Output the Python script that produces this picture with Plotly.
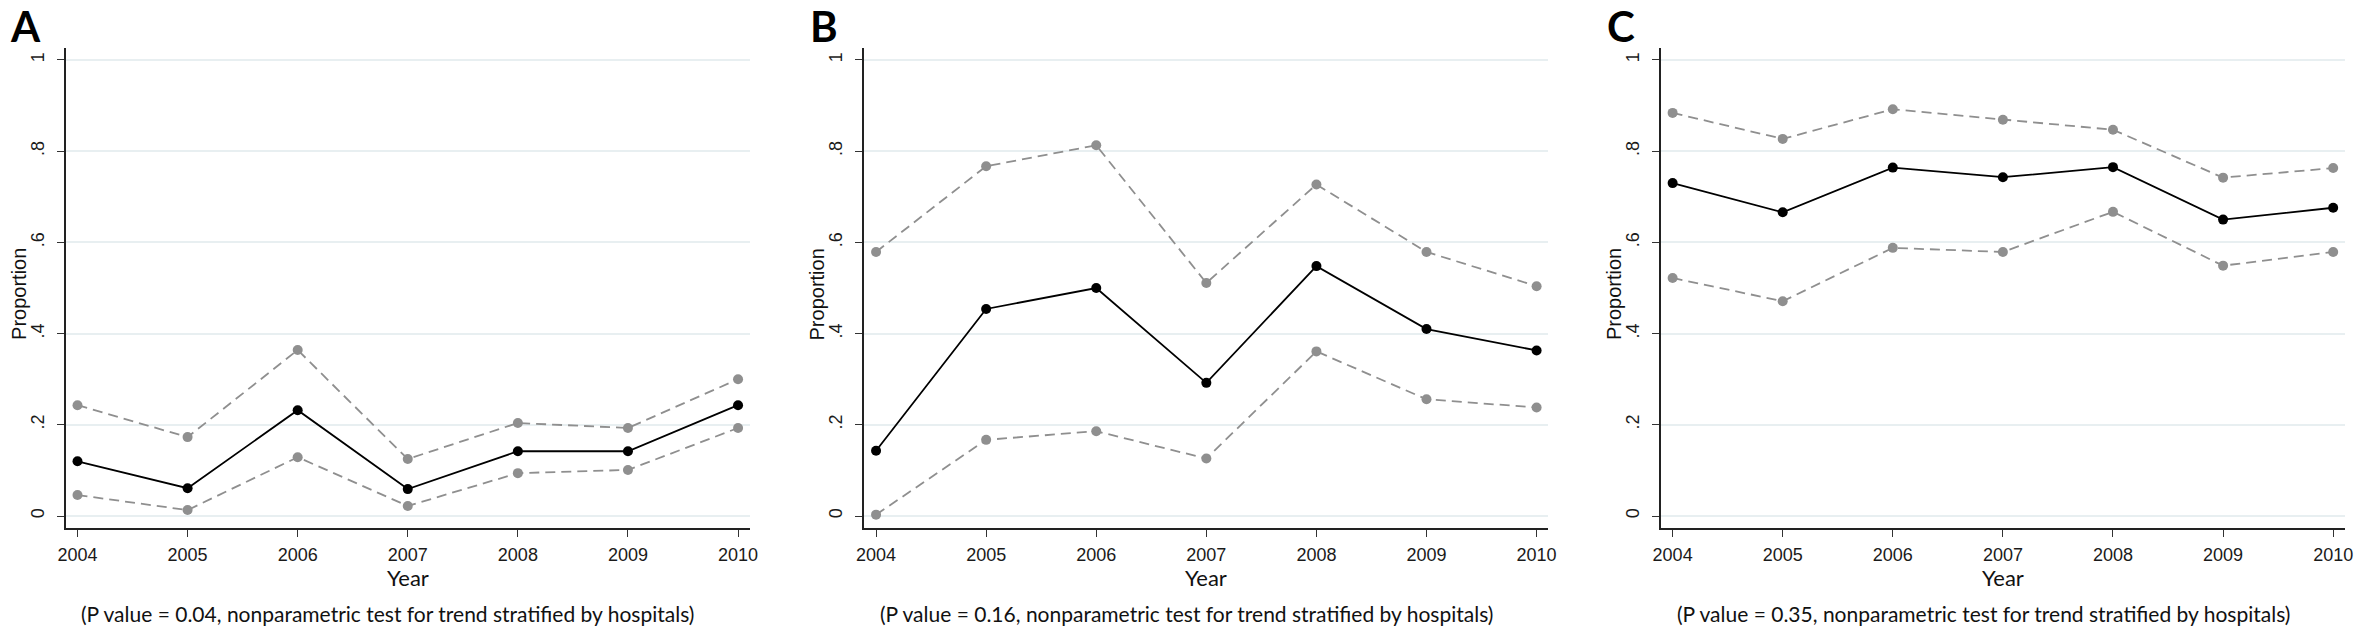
import plotly.graph_objects as go

years = [2004, 2005, 2006, 2007, 2008, 2009, 2010]

a_mean = [0.120, 0.061, 0.232, 0.059, 0.142, 0.142, 0.243]
a_upper = [0.243, 0.173, 0.364, 0.125, 0.204, 0.193, 0.300]
a_lower = [0.046, 0.013, 0.129, 0.022, 0.094, 0.101, 0.193]

b_mean = [0.143, 0.454, 0.500, 0.292, 0.548, 0.410, 0.363]
b_upper = [0.579, 0.767, 0.813, 0.511, 0.727, 0.579, 0.504]
b_lower = [0.003, 0.167, 0.186, 0.126, 0.361, 0.256, 0.238]

c_mean = [0.730, 0.666, 0.764, 0.743, 0.765, 0.650, 0.676]
c_upper = [0.884, 0.827, 0.892, 0.869, 0.847, 0.742, 0.763]
c_lower = [0.522, 0.471, 0.588, 0.579, 0.667, 0.549, 0.579]

panel_letters = ["A", "B", "C"]
p_values = ["0.04", "0.16", "0.35"]
ytick_vals = [0, 0.2, 0.4, 0.6, 0.8, 1]
ytick_text = ["0", ".2", ".4", ".6", ".8", "1"]
x_title = "Year"
y_title = "Proportion"
caption_tpl = "(P value = {}, nonparametric test for trend stratified by hospitals)"

W, H = 2362, 627
panel_px = [(58, 747), (862, 1551), (1664, 2353)]
y_top_px, y_bot_px = 48, 528

GRAY = "#8f8f8f"
GRID = "#e8eff1"
TICK_FONT = dict(family="Liberation Sans, Arial, sans-serif", size=18, color="#1a1a1a")
CAL_FONT = "Lato, Carlito, Calibri, sans-serif"

def px_x(p):
    return p / W

def px_y(p):
    return 1 - p / H

fig = go.Figure()
series = [(a_mean, a_upper, a_lower), (b_mean, b_upper, b_lower), (c_mean, c_upper, c_lower)]

for i, (mean, upper, lower) in enumerate(series):
    xa = "x" if i == 0 else f"x{i+1}"
    ya = "y" if i == 0 else f"y{i+1}"
    for ci in (upper, lower):
        fig.add_trace(go.Scatter(
            x=years, y=ci, mode="lines+markers", xaxis=xa, yaxis=ya,
            line=dict(color=GRAY, width=1.8, dash="10px,6px"),
            marker=dict(color=GRAY, size=10),
            showlegend=False, hoverinfo="skip"))
    fig.add_trace(go.Scatter(
        x=years, y=mean, mode="lines+markers", xaxis=xa, yaxis=ya,
        line=dict(color="black", width=1.8),
        marker=dict(color="black", size=10),
        showlegend=False, hoverinfo="skip"))

layout = dict(
    width=W, height=H,
    margin=dict(l=0, r=0, t=0, b=0),
    paper_bgcolor="white", plot_bgcolor="white",
    showlegend=False,
)

annotations = []
for i, (l, r) in enumerate(panel_px):
    xk = "xaxis" if i == 0 else f"xaxis{i+1}"
    yk = "yaxis" if i == 0 else f"yaxis{i+1}"
    yanchor_name = "y" if i == 0 else f"y{i+1}"
    xanchor_name = "x" if i == 0 else f"x{i+1}"
    layout[xk] = dict(
        domain=[px_x(l), px_x(r)], range=[2003.892, 2010.108],
        anchor=yanchor_name,
        tickmode="array", tickvals=years, ticktext=[str(y) for y in years],
        ticks="outside", ticklen=7, tickwidth=1.3, tickcolor="#333",
        ticklabelstandoff=3,
        showline=True, linecolor="#222", linewidth=1.5,
        showgrid=False, zeroline=False, tickfont=TICK_FONT,
    )
    layout[yk] = dict(
        domain=[px_y(y_bot_px), px_y(y_top_px)], range=[-0.0263, 1.0263],
        anchor=xanchor_name,
        tickmode="array", tickvals=ytick_vals, ticktext=ytick_text,
        tickangle=-90, ticklabelstandoff=6,
        ticks="outside", ticklen=7, tickwidth=1.3, tickcolor="#333",
        showline=True, linecolor="#222", linewidth=1.5,
        showgrid=True, gridcolor=GRID, gridwidth=1.5,
        zeroline=False, tickfont=TICK_FONT,
    )
    center = (l + r) / 2
    annotations.append(dict(
        text=x_title, xref="paper", yref="paper",
        x=px_x(center), y=px_y(577), xanchor="center", yanchor="middle",
        showarrow=False, font=dict(family=CAL_FONT, size=22, color="#111")))
    annotations.append(dict(
        text=caption_tpl.format(p_values[i]), xref="paper", yref="paper",
        x=px_x(center - 20), y=px_y(613), xanchor="center", yanchor="middle",
        borderpad=0,
        showarrow=False, font=dict(family=CAL_FONT, size=21, color="#111")))
    annotations.append(dict(
        text=y_title, xref="paper", yref="paper", textangle=-90,
        x=px_x(l - 47), y=px_y(294), xanchor="center", yanchor="middle",
        borderpad=0,
        showarrow=False, font=dict(family="Liberation Sans, Arial, sans-serif", size=20, color="#111")))
    annotations.append(dict(
        text=f"<b>{panel_letters[i]}</b>", xref="paper", yref="paper",
        x=px_x(l - 40), y=1, xanchor="center", yanchor="top",
        borderpad=0,
        showarrow=False, font=dict(family=CAL_FONT, size=42, color="black")))

layout["annotations"] = annotations
fig.update_layout(**layout)
fig.write_html(
    "out.html",
    config={"displayModeBar": False},
    post_script="document.body.style.margin='0';document.body.style.overflow='hidden';",
)
